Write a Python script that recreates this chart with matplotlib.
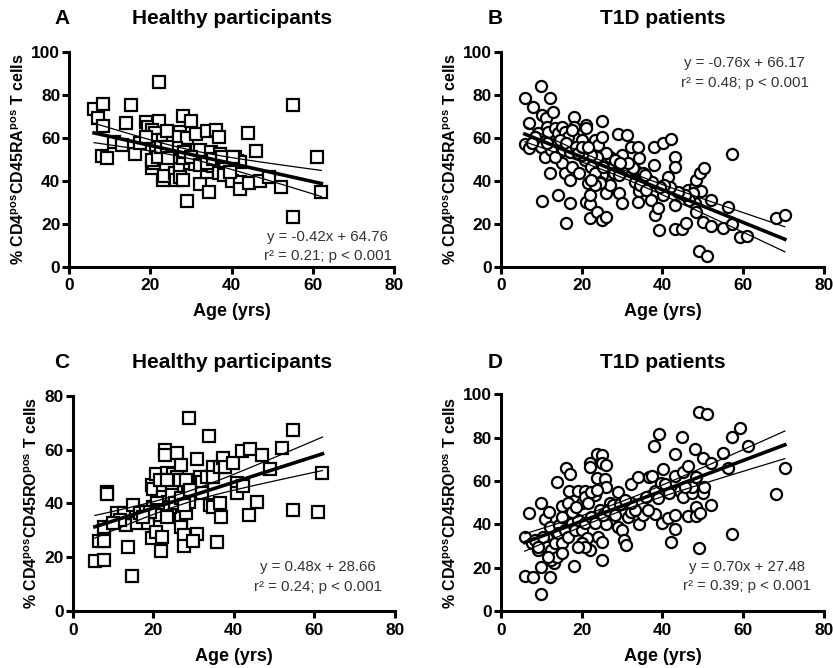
import numpy as np
import matplotlib
matplotlib.use("Agg")
import matplotlib.pyplot as plt

plt.rcParams['font.family'] = ['Liberation Sans', 'DejaVu Sans']
plt.rcParams['mathtext.fontset'] = 'custom'
plt.rcParams['mathtext.rm'] = 'Liberation Sans'
plt.rcParams['mathtext.bf'] = 'Liberation Sans:bold'

# panel A - healthy, CD45RA
a_age = [6.1, 8.2, 7.1, 8.4, 8.0, 9.2, 11, 14, 15.2, 13, 16.2, 17.4, 19, 19.4, 22.1, 22.1,
         20.3, 21.1, 21.5, 20.3, 20.8, 21.3, 23.1, 24, 23.1, 23.3, 24.4, 25.6, 26, 26.3,
         27.2, 27, 27.2, 27.2, 27.2, 28, 28, 30.1, 29, 29, 28.5, 29.7, 31.2, 31, 32.2, 32.2,
         33.9, 34, 34.3, 35, 35.4, 36.1, 36.9, 37.1, 36.9, 38.1, 40, 40.8, 41.3, 42.1, 42,
         42.1, 44, 44.3, 46.1, 46.9, 49.1, 52.1, 55, 55.1, 61, 62.1, 20.3, 21.9, 22.7, 24.8,
         25.2, 26.4, 28, 28.2, 30.1, 32.2, 33.9, 35.4, 37.5, 40.4, 39.5, 19, 24, 24.4]
a_ra = [73.2, 75.5, 69, 65.4, 51.5, 50.5, 58, 67, 75.2, 56.4, 52.4, 57.7, 67.3, 65, 85.9, 67.6,
        63.6, 62, 59, 45.7, 48, 55, 59, 63.3, 40.3, 42, 53.5, 57.4, 43.4, 40.3,
        62.8, 60.5, 51.2, 46.5, 41.9, 70, 40.3, 67.9, 60, 30.7, 54.3, 48, 61.7, 47.8, 54.3, 38.4,
        63.1, 44.2, 34.9, 53.5, 46.8, 63.6, 60.2, 52.4, 43.4, 42.6, 39.8, 51.2, 49.3, 48.8, 39.5,
        36, 62.3, 39, 54, 40, 41.6, 36.9, 75.2, 23.3, 51.2, 34.9, 49.6, 51.2, 55.8, 53.5,
        51.2, 55, 50.4, 53.5, 51.2, 47.3, 48, 50, 51.2, 51.2, 44.2, 60.5, 55.8, 50.4]

# panel B - T1D, CD45RA
b_age = [5.9, 5.9, 7, 7, 8, 9.9, 12.1, 9.2, 10.1, 11.1, 11.3, 9.9, 11, 12.9, 10.1, 12.1, 14.2,
         16, 17.1, 15, 15.8, 17, 18.1, 18.1, 18.1, 17.5, 19.3, 20, 21, 21, 20.8, 21, 22, 22,
         22, 21.6, 23.3, 24.1, 24.1, 23.9, 24.9, 26.1, 25.1, 25.1, 24.9, 25.7, 25.9, 27, 27,
         29, 29.2, 30, 29.9, 30.7, 31.1, 32.2, 33.2, 34, 34.1, 34.1, 34, 35.2, 36.5, 37.1, 37.9,
         37.9, 38.1, 38.9, 39.1, 40.2, 40.2, 41.3, 42.1, 43, 43.2, 43, 43, 44.7, 44.9, 45.9,
         46.2, 48, 48.2, 49.2, 50.2, 48, 48.4, 49, 51.1, 50.1, 52.1, 52.1, 55.1, 56.2, 57.2,
         57.2, 59.1, 61, 68.2, 70.3, 49.6, 47.6, 46.6, 45.5, 43.9, 41.8, 40.4, 39.3, 37.3, 35.6,
         32.7, 31.5, 28.2, 26.1, 23.7, 22.4, 20, 11.7, 13.4, 14.2, 15, 15.8, 16.7, 17.5, 13.8,
         14.6, 15.4, 12.5, 11.3, 8.4, 7.6, 13.4, 16.2, 17, 18.7, 19.1, 20, 21.6, 22.4, 23.3,
         24.5, 25.3, 28, 29.2, 29.4, 33.2, 34.4, 36, 24.5, 23.3, 22.4]
b_ra = [78.6, 57, 55, 67, 74.1, 84, 78.6, 62, 70.5, 69, 65, 55.8, 51.2, 72, 30.5, 43.4, 33.3,
        20.2, 29.5, 48, 43.4, 40.3, 69.5, 65.1, 60.5, 46.5, 43.4, 58.9, 65.9, 64.3, 49.6, 30.2,
        29.1, 22.5, 33.3, 38.8, 58.9, 56.6, 48, 25.6, 21.7, 23.3, 67.9, 60.2, 42.6, 38, 34.1,
        51.2, 38, 61.6, 34.4, 29.5, 51.9, 46.5, 61.2, 55.8, 45, 55.8, 50.4, 35.2, 30.2, 43.4,
        40.3, 31, 55.8, 47.3, 24, 27.1, 17.1, 57.7, 33.3, 41.9, 59.2, 50.9, 46.5, 28.7, 17.4,
        34.1, 17.4, 20.2, 35.7, 37.2, 40.3, 43.7, 46, 29.5, 25.6, 7.4, 5, 20.9, 31, 18.9, 17.8,
        27.9, 52.4, 19.8, 13.6, 14.3, 22.5, 24, 35.3, 34.1, 31, 33.3, 34.9, 37.2, 38, 37.2,
        39.5, 42.6, 45.7, 48, 49.6, 52.7, 51.2, 51.9, 51.9, 62.8, 64.3, 62, 65.1, 62.8, 60.5,
        63.6, 57.4, 58.9, 54.3, 54.3, 57.4, 60.5, 57.4, 51.2, 57.4, 53.5, 55.8, 52.7, 55.8,
        55.8, 46.5, 43.4, 39.5, 46.5, 43.4, 42.6, 48, 39.5, 38, 35.7, 38.8, 38, 40.3]

# panel C - healthy, CD45RO
c_age = [5.5, 7.8, 6.4, 7.8, 7.8, 8.6, 8.6, 10.9, 13.2, 13.8, 14.8, 12.7, 14.9, 15.9, 16.7,
         18.8, 19.6, 19.8, 20, 20, 20.7, 20.7, 22.1, 21.8, 22.8, 22.8, 23.3, 22.5, 22.5, 23.7,
         22.9, 24.6, 25, 25.8, 26, 26.6, 26.9, 26.8, 26.8, 27.5, 27.7, 28, 28.1, 28.9, 28.7,
         28.9, 30.8, 29.9, 30.8, 31.6, 32, 33.3, 33.9, 34.1, 34.9, 34.9, 34.9, 35.9, 36.7,
         36.6, 37.4, 37.8, 39.9, 40.9, 40.9, 42, 42.2, 44, 43.8, 47, 45.8, 49, 51.9, 54.8,
         54.8, 61, 62, 18.1, 20.8, 21.3, 21.7, 24.2, 24.6, 25.4, 27, 27.5, 29.1, 21.7, 23.3,
         23.3, 19.2, 17.5, 11.7, 10.1, 32, 36.6]
c_ro = [18.6, 18.9, 26, 26.1, 31.1, 44.3, 43.5, 36.5, 32.1, 23.9, 13, 36.3, 39.4, 32.6, 36.3,
        32.6, 27, 46.8, 45.2, 38.8, 50.9, 29.5, 27.4, 22.4, 59.8, 58, 51.1, 46.2, 42.5, 40.6,
        36.9, 46.2, 50.9, 58.6, 49.9, 48.7, 54.2, 34.4, 31.3, 28.2, 24.1, 36.5, 48.7, 71.6, 43.7,
        40.6, 28.6, 26, 56.5, 49.9, 48, 49.9, 65, 39.4, 53.4, 49.9, 38.8, 25.8, 34.8,
        53.6, 56.7, 53.6, 55.1, 47.7, 43.7, 59.6, 46.6, 60.2, 35.7, 58, 40.6, 52.6, 60.4, 67.2,
        37.5, 36.9, 51.4, 36.9, 40, 37.5, 35.7, 38.8, 43.1, 40, 41.9, 39.4, 45, 48.7, 48.7,
        35, 36.9, 35, 33.8, 32.6, 43.7, 40]

# panel D - T1D, CD45RO
d_age = [5.9, 8, 9.9, 9.9, 12.1, 5.9, 7, 9.9, 10.9, 12, 10.1, 9.2, 11.3, 12.1, 13.2, 14, 14.4,
         15, 16.1, 17.1, 16.9, 18.1, 19.1, 20, 20.8, 20.4, 22, 22, 22, 23.3, 23.7, 23.9, 24.1,
         24.9, 24.9, 25.1, 25.1, 25.9, 25.7, 26.1, 25.9, 27, 29, 29, 29.9, 30.5, 30.9, 31.5,
         32.2, 32.3, 34, 34.1, 35.2, 36.6, 37.5, 37.9, 38.1, 38.1, 39.1, 39.6, 40.2, 39.9, 41.3,
         40.7, 42.2, 43, 43.2, 43, 43, 44.3, 44.9, 45.1, 45.1, 46.2, 46.4, 47.2, 47.3, 48,
         48.2, 48.2, 48.4, 49.1, 51.1, 49, 49.3, 50.1, 50.1, 50.3, 51.9, 52.1, 55, 56.2, 57.1,
         57.2, 59.1, 61.2, 68, 70.3, 7.6, 8.4, 10.5, 11.3, 12.5, 13.4, 14.2, 15, 15.8, 16.7,
         17.5, 18.3, 19.1, 20, 20.8, 21.2, 22.4, 23.3, 24.5, 25.3, 26.6, 27.8, 20, 20.8, 19.1,
         12.5, 13.8, 15, 11.7, 9.2, 15, 16.6, 17.5, 18.7, 20.8, 21.6, 22.4, 23.7, 33.2, 32.3,
         36, 36.5, 29.4, 30.7, 28.2, 39, 41.5, 45.5]
d_ro = [16.2, 15.8, 7.7, 20.2, 15.5, 34.3, 45.1, 49.7, 42.3, 45.8, 31.2, 28.2, 33.5, 38.9, 22,
        59.7, 39.7, 48.5, 65.8, 63.2, 55.4, 20.8, 55.4, 49.7, 55.5, 32, 28.2, 68.2, 66.6, 53.5,
        61.2, 72.5, 34.3, 32, 23.5, 72, 68.5, 67.4, 60.8, 57.4, 40, 49.7, 55.1, 38.9, 37.4, 32.8,
        30.5, 43.2, 58.5, 45.8, 62, 40.2, 44.3, 62, 62.3, 76.2, 44.8, 55.5, 81.5, 59.2, 65.4,
        40.8, 42.8, 58.6, 32, 37.7, 44.3, 62.3, 72.5, 55.5, 80.2, 52.8, 64.3, 43.8, 66.9, 54.3,
        57.4, 74.6, 62, 48.2, 43.8, 91.7, 90.8, 29.2, 45.4, 70.5, 54.3, 57.4, 68.2, 48.9, 72.8,
        65.8, 80.5, 35.5, 84.3, 76.2, 53.8, 65.8, 31.2, 32.8, 34.3, 29.7, 28.2, 31.2, 35.8,
        31.2, 37.4, 34.3, 40.5, 37.4, 42, 37.4, 40.5, 33.5, 43.5, 40.5, 46.6, 44.3, 46.6, 49,
        31.2, 29.7, 29.7, 23.5, 25.1, 26.6, 25.1, 29.7, 43.5, 49.7, 45.8, 48.2, 52.8, 49.7,
        55.1, 55.8, 46.6, 49.7, 52.8, 46.6, 49.2, 51.2, 44.3, 52, 54.3, 57.4]

slopes = [-0.42, -0.76, 0.48, 0.70]
intercepts = [64.76, 66.17, 28.66, 27.48]
r2_vals = ['0.21', '0.48', '0.24', '0.39']
titles = ['Healthy participants', 'T1D patients', 'Healthy participants', 'T1D patients']
letters = ['A', 'B', 'C', 'D']
ylabels = [r'% CD4$^{\mathbf{pos}}$CD45RA$^{\mathbf{pos}}$ T cells',
           r'% CD4$^{\mathbf{pos}}$CD45RA$^{\mathbf{pos}}$ T cells',
           r'% CD4$^{\mathbf{pos}}$CD45RO$^{\mathbf{pos}}$ T cells',
           r'% CD4$^{\mathbf{pos}}$CD45RO$^{\mathbf{pos}}$ T cells']

fig = plt.figure(figsize=(8.33, 6.68), dpi=100)
rects = [[0.0832, 0.6008, 0.3898, 0.3219],
         [0.6014, 0.6008, 0.3878, 0.3219],
         [0.0873, 0.0853, 0.3869, 0.3223],
         [0.6014, 0.0853, 0.3878, 0.3244]]
data = [(a_age, a_ra, 's', 8.8), (b_age, b_ra, 'o', 8.0),
        (c_age, c_ro, 's', 8.8), (d_age, d_ro, 'o', 8.0)]
ytops = [100, 100, 80, 100]
txt_pos = [(0.796, 0.138, 0.05), (0.754, 0.947, 0.854),
           (0.76, 0.204, 0.111), (0.7625, 0.203, 0.115)]
letter_xy = [(62, 18), (495, 18), (62, 363), (495, 363)]
title_xy = [(232, 18), (663, 18), (232, 363), (663, 363)]

for i in range(4):
    ax = fig.add_axes(rects[i])
    x = np.array(data[i][0], dtype=float)
    y = np.array(data[i][1], dtype=float)
    ax.plot(x, y, data[i][2], ms=data[i][3], mfc='white', mec='black', mew=1.6,
            ls='none', zorder=2)

    # regression line + 95% confidence band
    xs = np.linspace(x.min(), x.max(), 100)
    fit = slopes[i] * xs + intercepts[i]
    res = y - (slopes[i] * x + intercepts[i])
    n = len(x)
    s = np.sqrt(np.sum(res ** 2) / (n - 2))
    se = s * np.sqrt(1.0 / n + (xs - x.mean()) ** 2 / np.sum((x - x.mean()) ** 2))
    ax.plot(xs, fit, color='black', lw=2.6, zorder=3)
    ax.plot(xs, fit + 1.98 * se, color='black', lw=0.9, zorder=3)
    ax.plot(xs, fit - 1.98 * se, color='black', lw=0.9, zorder=3)

    ax.set_xlim(0, 80)
    ax.set_ylim(0, ytops[i])
    ax.set_xticks([0, 20, 40, 60, 80])
    ax.set_yticks(np.arange(0, ytops[i] + 1, 20))
    for sp in ['top', 'right']:
        ax.spines[sp].set_visible(False)
    for sp in ['left', 'bottom']:
        ax.spines[sp].set_linewidth(2.2)
    ax.tick_params(width=2.2, length=5, labelsize=12.5)
    ax.tick_params(axis='y', pad=1.5)
    for lab in ax.get_xticklabels() + ax.get_yticklabels():
        lab.set_fontweight('bold')
    ax.set_xlabel('Age (yrs)', fontsize=13, fontweight='bold', labelpad=7)
    ax.set_ylabel(ylabels[i], fontsize=11.5, fontweight='bold', labelpad=3)

    eq = 'y = %.2fx + %.2f' % (slopes[i], intercepts[i])
    tx, ty1, ty2 = txt_pos[i]
    ax.text(tx, ty1, eq, transform=ax.transAxes, ha='center', va='center',
            fontsize=10.8, color='#333333')
    ax.text(tx, ty2, 'r\u00b2 = %s; p < 0.001' % r2_vals[i], transform=ax.transAxes,
            ha='center', va='center', fontsize=10.8, color='#333333')

    lx, ly = letter_xy[i]
    fig.text(lx / 833, 1 - ly / 668, letters[i], ha='center', va='center',
             fontsize=15, fontweight='bold')
    cx, cy = title_xy[i]
    fig.text(cx / 833, 1 - cy / 668, titles[i], ha='center', va='center',
             fontsize=15, fontweight='bold')

fig.savefig('out.png', dpi=100, facecolor='white')
